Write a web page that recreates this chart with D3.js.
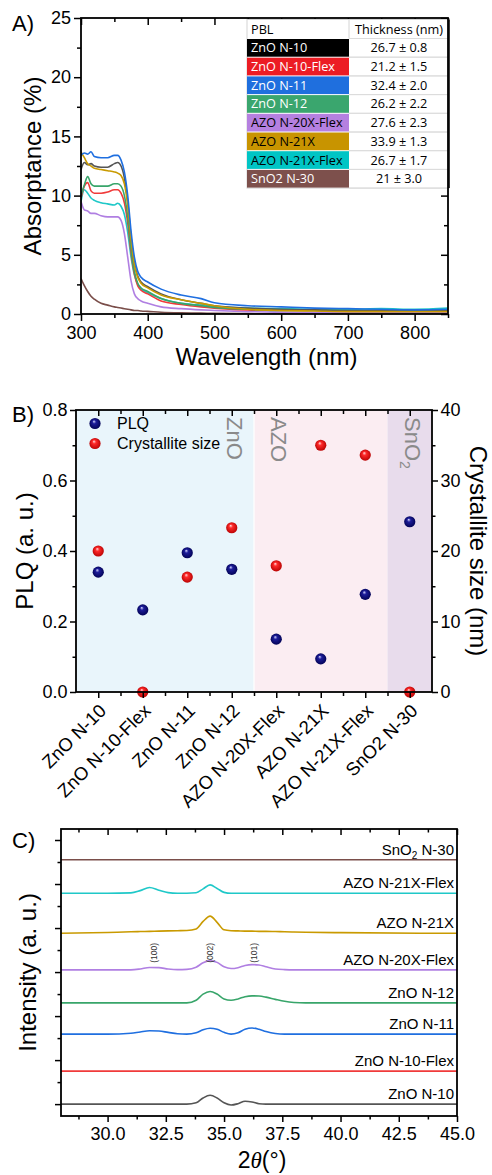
<!DOCTYPE html>
<html><head><meta charset="utf-8">
<script src="https://cdn.jsdelivr.net/npm/d3@7"></script>
<style>body{margin:0;background:#fff;} svg{display:block;font-family:"Liberation Sans",Arial,sans-serif;}</style>
</head><body><svg id="c" width="492" height="1175"></svg>
<script>
// ---------------- DATA ----------------
const samples = ["ZnO N-10","ZnO N-10-Flex","ZnO N-11","ZnO N-12","AZO N-20X-Flex","AZO N-21X","AZO N-21X-Flex","SnO2 N-30"];
const thickness = ["26.7 ± 0.8","21.2 ± 1.5","32.4 ± 2.0","26.2 ± 2.2","27.6 ± 2.3","33.9 ± 1.3","26.7 ± 1.7","21 ± 3.0"];

// Panel A: absorptance (%) vs wavelength (nm)
const wavelength = [300,305,310,315,320,330,340,350,355,360,365,370,375,380,385,390,400,420,450,480,500,550,600,650,700,750,800,850];
const absZnO_N10     = [12.2,12.8,12.6,12.7,12.5,12.4,12.4,12.7,12.8,12.5,11.5,9.5,6.5,4.3,3.2,2.7,2.3,1.7,1.2,0.9,0.7,0.5,0.4,0.35,0.3,0.3,0.3,0.3];
const absZnO_N10Flex = [9.8,10.8,11.1,10.4,10.2,10.2,10.3,10.5,10.5,10.2,9.4,7.7,5.2,3.4,2.4,2.0,1.7,1.1,0.8,0.6,0.5,0.35,0.3,0.3,0.25,0.25,0.25,0.25];
const absZnO_N11     = [13.4,13.6,13.5,13.7,13.3,13.2,13.2,13.4,13.4,13.0,12.0,10.0,7.0,4.8,3.6,3.1,2.7,2.1,1.6,1.3,0.95,0.7,0.6,0.5,0.45,0.4,0.35,0.4];
const absZnO_N12     = [10.0,10.9,11.6,11.0,10.8,10.8,10.8,11.0,11.0,10.8,10.0,8.2,5.5,3.6,2.6,2.2,1.9,1.3,0.9,0.7,0.55,0.4,0.3,0.3,0.3,0.3,0.25,0.3];
const absAZO_N20XFlex= [9.5,8.8,8.7,8.5,8.5,8.3,8.2,8.2,8.2,7.9,6.8,4.8,2.8,1.7,1.3,1.1,0.9,0.6,0.45,0.35,0.3,0.2,0.15,0.1,0.1,0.1,0.1,0.1];
const absAZO_N21X    = [13.7,13.2,12.7,12.5,12.3,12.2,12.1,12.0,11.9,11.7,11.0,9.2,6.3,4.2,3.1,2.6,2.2,1.6,1.2,0.9,0.7,0.4,0.3,0.25,0.2,0.2,0.2,0.2];
const absAZO_N21XFlex= [9.5,10.5,10.2,9.8,9.6,9.4,9.3,9.2,9.35,9.1,8.4,6.9,4.8,3.3,2.5,2.1,1.8,1.3,0.9,0.75,0.6,0.5,0.45,0.4,0.4,0.45,0.4,0.5];
const absSnO2_N30    = [3.0,2.4,1.9,1.5,1.25,0.9,0.75,0.6,0.55,0.5,0.45,0.4,0.35,0.3,0.3,0.25,0.22,0.15,0.1,0.08,0.05,0.03,0.02,0.02,0.02,0.02,0.02,0.02];
const absTicksX = [300,400,500,600,700,800];
const absTicksY = [0,5,10,15,20,25];

// Panel B
const plq = [0.34,0.233,0.395,0.348,0.150,0.094,0.277,0.483];
const crystalliteSize = [20.0,0,16.3,23.3,17.9,35.0,33.6,0];
const plqTicks = [0,0.2,0.4,0.6,0.8];
const sizeTicks = [0,10,20,30,40];
const groups = ["ZnO","AZO","SnO2"];
const groupSpans = [[0,3],[4,6],[7,7]];

// Panel C: XRD
const twoTheta = [28,30,31.0,31.4,31.8,32.2,32.6,33.0,33.4,33.8,34.1,34.4,34.7,35.0,35.3,35.6,35.9,36.2,36.5,36.8,37.2,37.6,38.0,38.5,40,45];
const xrdZnO_N10     = [0,0,0,0,0,0,0,0,0,0.03,0.14,0.2,0.14,0.03,-0.02,0.01,0.065,0.05,0.01,0,0,0,0,0,0,0];
const xrdZnO_N10Flex = [0,0,0,0,0,0,0,0,0,0,0,0,0,0,0,0,0,0,0,0,0,0,0,0,0,0];
const xrdZnO_N11     = [0,0,0.02,0.05,0.075,0.07,0.04,0.01,0,0.03,0.1,0.135,0.11,0.04,0,0.03,0.11,0.14,0.11,0.06,0.015,0,0,0,0,0];
const xrdZnO_N12     = [0,0,0,0,0,0,0,0,0,0.06,0.2,0.26,0.2,0.09,0.06,0.09,0.14,0.16,0.155,0.13,0.08,0.035,0.01,0,0,0];
const xrdAZO_N20XFlex= [0,0,0,0.02,0.055,0.05,0.02,0.005,0.01,0.06,0.16,0.21,0.17,0.07,0.03,0.05,0.1,0.12,0.11,0.07,0.02,0.005,0,0,0,0];
const xrdAZO_N21X    = [0,0.02,0.035,0.04,0.045,0.05,0.055,0.06,0.065,0.1,0.27,0.39,0.25,0.08,0.06,0.055,0.05,0.05,0.045,0.045,0.04,0.035,0.03,0.025,0.015,0];
const xrdAZO_N21XFlex= [0,0,0.01,0.06,0.13,0.07,0.015,0,0,0.01,0.1,0.19,0.11,0.02,0,0,0,0,0,0,0,0,0,0,0,0];
const xrdSnO2_N30    = [0,0,0,0,0,0,0,0,0,0,0,0,0,0,0,0,0,0,0,0,0,0,0,0,0,0];
const xrdOffsets = [0,0.75,1.59,2.3,3.05,3.88,4.79,5.55];
const xrdTicksX = [30,32.5,35,37.5,40,42.5,45];
const peakLabels = ["(100)","(002)","(101)"];
const peakPositions = [32.0,34.4,36.3];

// ---------------- STYLE ----------------
const lineColors = ["#555555","#f03a3a","#1f6fe0","#38a56a","#b07fe2","#c99a00","#1fc8c8","#7a4e4a"];
const cellColors = ["#000000","#ec1c24","#1f6fde","#3aa66e","#b580e0","#c89400","#00c5c5","#7d504c"];
const cellTextColors = ["#fff","#fff","#fff","#fff","#000","#000","#000","#fff"];
const groupColors = ["#e9f5fb","#fbedf2","#e8dcec"];

const svg = d3.select("#c");
const TICKFONT = 18;

function styleAxis(g){
  g.select(".domain").remove();
  g.selectAll("line").attr("stroke","#000").attr("stroke-width",1.5);
  g.selectAll("text").attr("font-size",TICKFONT).attr("font-family","Liberation Sans, Arial, sans-serif").attr("fill","#000");
}
function frame(x0,y0,x1,y1){
  svg.append("rect").attr("x",x0).attr("y",y0).attr("width",x1-x0).attr("height",y1-y0)
    .attr("fill","none").attr("stroke","#000").attr("stroke-width",1.8);
}
function halfSteps(arr){ const r=[]; for(let i=0;i<arr.length-1;i++) r.push((arr[i]+arr[i+1])/2); return r; }

// ================= PANEL A =================
{
  const L=81,R=448,T=18,B=314;
  const x = d3.scaleLinear().domain([300,850]).range([L,R]);
  const y = d3.scaleLinear().domain([0,25]).range([B,T]);
  const series = [absZnO_N10,absZnO_N10Flex,absZnO_N11,absZnO_N12,absAZO_N20XFlex,absAZO_N21X,absAZO_N21XFlex,absSnO2_N30];
  svg.append("clipPath").attr("id","clipA").append("rect").attr("x",L).attr("y",T).attr("width",R-L).attr("height",B-T);
  const line = d3.line().x((d,i)=>x(wavelength[i])).y(d=>y(d)).curve(d3.curveMonotoneX);
  const order=[7,4,6,1,3,0,5,2];
  const gl = svg.append("g").attr("clip-path","url(#clipA)");
  order.forEach(k=>{
    gl.append("path").attr("d",line(series[k])).attr("fill","none").attr("stroke",lineColors[k]).attr("stroke-width",1.6);
  });
  const minorX = halfSteps(absTicksX.concat([900])).filter(v=>v<=850);
  const minorY = halfSteps(absTicksY);
  svg.append("g").attr("transform",`translate(0,${B})`).call(d3.axisBottom(x).tickValues(absTicksX).tickSize(7).tickPadding(5).tickFormat(d3.format("d"))).call(styleAxis);
  svg.append("g").attr("transform",`translate(0,${B})`).call(d3.axisBottom(x).tickValues(minorX).tickSize(4).tickFormat("")).call(styleAxis);
  svg.append("g").attr("transform",`translate(0,${T})`).call(d3.axisTop(x).tickValues(absTicksX).tickSize(-7).tickFormat("")).call(styleAxis);
  svg.append("g").attr("transform",`translate(0,${T})`).call(d3.axisTop(x).tickValues(minorX).tickSize(-4).tickFormat("")).call(styleAxis);
  svg.append("g").attr("transform",`translate(${L},0)`).call(d3.axisLeft(y).tickValues(absTicksY).tickSize(7).tickPadding(3)).call(styleAxis);
  svg.append("g").attr("transform",`translate(${L},0)`).call(d3.axisLeft(y).tickValues(minorY).tickSize(4).tickFormat("")).call(styleAxis);
  svg.append("g").attr("transform",`translate(${R},0)`).call(d3.axisRight(y).tickValues(absTicksY).tickSize(-7).tickFormat("")).call(styleAxis);
  svg.append("g").attr("transform",`translate(${R},0)`).call(d3.axisRight(y).tickValues(minorY).tickSize(-4).tickFormat("")).call(styleAxis);

  // table
  const tx0=247, tx1=349, tx2=449, ty0=19.5, hh=19, rh=18.7;
  const tf = "'Open Sans','Noto Sans',sans-serif";
  const tg = svg.append("g").attr("font-family",tf).attr("font-size",12.7);
  tg.append("rect").attr("x",tx0).attr("y",ty0).attr("width",tx2-tx0).attr("height",hh+rh*samples.length).attr("fill","#fff").attr("stroke","#d4d4d4").attr("stroke-width",1);
  tg.append("text").attr("x",tx0+4).attr("y",ty0+hh/2+4.5).text("PBL").attr("fill","#000");
  tg.append("text").attr("x",(tx1+tx2)/2).attr("y",ty0+hh/2+4.5).attr("text-anchor","middle").text("Thickness (nm)").attr("fill","#000");
  tg.append("line").attr("x1",tx1).attr("x2",tx1).attr("y1",ty0).attr("y2",ty0+hh).attr("stroke","#d4d4d4");
  samples.forEach((s,i)=>{
    const yy = ty0+hh+i*rh;
    tg.append("rect").attr("x",tx0).attr("y",yy+0.5).attr("width",tx1-tx0).attr("height",rh-1).attr("fill",cellColors[i]);
    tg.append("line").attr("x1",tx1).attr("x2",tx2).attr("y1",yy+rh).attr("y2",yy+rh).attr("stroke","#dcdcdc");
    tg.append("line").attr("x1",tx1).attr("x2",tx2).attr("y1",yy).attr("y2",yy).attr("stroke","#dcdcdc");
    tg.append("text").attr("x",tx0+4).attr("y",yy+rh/2+4.5).attr("fill",cellTextColors[i]).text(s);
    tg.append("text").attr("x",(tx1+tx2)/2).attr("y",yy+rh/2+4.5).attr("text-anchor","middle").attr("fill","#000").text(thickness[i]);
  });
  tg.append("line").attr("x1",tx2).attr("x2",tx2).attr("y1",ty0).attr("y2",ty0+hh+rh*samples.length).attr("stroke","#000").attr("stroke-width",1.5);

  frame(L,T,R,B);
  svg.append("text").attr("x",12).attr("y",31).attr("font-size",22).text("A)");
  svg.append("text").attr("transform",`translate(41,${(T+B)/2}) rotate(-90)`).attr("text-anchor","middle").attr("font-size",24).text("Absorptance (%)");
  svg.append("text").attr("x",(L+R)/2+2).attr("y",365).attr("text-anchor","middle").attr("font-size",24).text("Wavelength (nm)");
}

// ================= PANEL B =================
{
  const L=76,R=432,T=410,B=692;
  const x = d3.scalePoint().domain(samples).range([L,R]).padding(0.5);
  const step = x.step();
  const yL = d3.scaleLinear().domain([0,0.8]).range([B,T]);
  const yR = d3.scaleLinear().domain([0,40]).range([B,T]);
  groupSpans.forEach((sp,gi)=>{
    const x0 = gi===0 ? L : x(samples[sp[0]])-step/2;
    const x1 = gi===groupSpans.length-1 ? R : x(samples[sp[1]])+step/2;
    svg.append("rect").attr("x",x0).attr("y",T).attr("width",x1-x0).attr("height",B-T).attr("fill",groupColors[gi]);
  });
  svg.append("line").attr("x1",x(samples[3])+step/2).attr("x2",x(samples[3])+step/2).attr("y1",T).attr("y2",B).attr("stroke","#fff").attr("stroke-width",1.2);
  const glab = [[3,"ZnO"],[4,"AZO"],[7,"SnO"]];
  glab.forEach(([idx,t],gi)=>{
    const tt = svg.append("text").attr("transform",`translate(${x(samples[idx])-5},${T+7}) rotate(90)`)
      .attr("font-size",22).attr("fill","#8a8a8a").text(t);
    if(gi===2) tt.append("tspan").attr("font-size",14).attr("dy",5).text("2");
  });
  const defs = svg.append("defs");
  const mk = (id,c0,c1,c2)=>{
    const g = defs.append("radialGradient").attr("id",id).attr("cx","50%").attr("cy","50%").attr("r","55%").attr("fx","40%").attr("fy","30%");
    g.append("stop").attr("offset","0%").attr("stop-color",c0);
    g.append("stop").attr("offset","30%").attr("stop-color",c1);
    g.append("stop").attr("offset","100%").attr("stop-color",c2);
  };
  mk("gNavy","#d8d8ff","#1d1d9a","#000050");
  mk("gRed","#ffe0e0","#ff2a2a","#b40000");
  samples.forEach((s,i)=>{
    svg.append("circle").attr("cx",x(s)).attr("cy",yL(plq[i])).attr("r",5.6).attr("fill","url(#gNavy)");
  });
  samples.forEach((s,i)=>{
    svg.append("circle").attr("cx",x(s)).attr("cy",yR(crystalliteSize[i])).attr("r",5.6).attr("fill","url(#gRed)");
  });
  svg.append("circle").attr("cx",95).attr("cy",423.5).attr("r",5.6).attr("fill","url(#gNavy)");
  svg.append("circle").attr("cx",95).attr("cy",443.5).attr("r",5.6).attr("fill","url(#gRed)");
  svg.append("text").attr("x",117).attr("y",429).attr("font-size",16).text("PLQ");
  svg.append("text").attr("x",117).attr("y",449).attr("font-size",16).text("Crystallite size");

  const mids = samples.slice(0,-1).map((s,i)=>x(s)+step/2);
  const xm = d3.scaleIdentity().domain([L,R]).range([L,R]);
  svg.append("g").attr("transform",`translate(0,${B})`).call(d3.axisBottom(x).tickSize(6).tickFormat("")).call(styleAxis);
  svg.append("g").attr("transform",`translate(0,${B})`).call(d3.axisBottom(xm).tickValues(mids).tickSize(4).tickFormat("")).call(styleAxis);
  svg.append("g").attr("transform",`translate(0,${T})`).call(d3.axisTop(x).tickSize(-6).tickFormat("")).call(styleAxis);
  svg.append("g").attr("transform",`translate(0,${T})`).call(d3.axisTop(xm).tickValues(mids).tickSize(-4).tickFormat("")).call(styleAxis);
  svg.append("g").attr("transform",`translate(${L},0)`).call(d3.axisLeft(yL).tickValues(plqTicks).tickSize(6).tickPadding(2.5).tickFormat(d3.format(".1f"))).call(styleAxis);
  svg.append("g").attr("transform",`translate(${L},0)`).call(d3.axisLeft(yL).tickValues(halfSteps(plqTicks)).tickSize(3.5).tickFormat("")).call(styleAxis);
  svg.append("g").attr("transform",`translate(${R},0)`).call(d3.axisRight(yR).tickValues(sizeTicks).tickSize(6).tickPadding(2.5).tickFormat(d3.format("d"))).call(styleAxis);
  svg.append("g").attr("transform",`translate(${R},0)`).call(d3.axisRight(yR).tickValues(halfSteps(sizeTicks)).tickSize(3.5).tickFormat("")).call(styleAxis);
  samples.forEach(s=>{
    svg.append("text").attr("transform",`translate(${x(s)+9},${B+20}) rotate(-45)`).attr("text-anchor","end")
      .attr("font-size",18.5).text(s);
  });
  frame(L,T,R,B);
  svg.append("text").attr("x",12).attr("y",422).attr("font-size",22).text("B)");
  svg.append("text").attr("transform",`translate(33,${(T+B)/2}) rotate(-90)`).attr("text-anchor","middle").attr("font-size",24).text("PLQ (a. u.)");
  svg.append("text").attr("transform",`translate(470,${(T+B)/2}) rotate(90)`).attr("text-anchor","middle").attr("font-size",24).text("Crystallite size (nm)");
}

// ================= PANEL C =================
{
  const L=61,R=457,T=829,B=1116;
  const x = d3.scaleLinear().domain([28,45]).range([L,R]);
  const y = d3.scaleLinear().domain([-0.27,6.25]).range([B,T]);
  const series = [xrdZnO_N10,xrdZnO_N10Flex,xrdZnO_N11,xrdZnO_N12,xrdAZO_N20XFlex,xrdAZO_N21X,xrdAZO_N21XFlex,xrdSnO2_N30];
  svg.append("clipPath").attr("id","clipC").append("rect").attr("x",L).attr("y",T).attr("width",R-L).attr("height",B-T);
  const gl = svg.append("g").attr("clip-path","url(#clipC)");
  series.forEach((s,k)=>{
    const line = d3.line().x((d,i)=>x(twoTheta[i])).y(d=>y(d+xrdOffsets[k])).curve(d3.curveMonotoneX);
    gl.append("path").attr("d",line(s)).attr("fill","none").attr("stroke",lineColors[k]).attr("stroke-width",1.6);
  });
  samples.forEach((s,k)=>{
    const t = svg.append("text").attr("x",R-3).attr("y",y(xrdOffsets[k])-5).attr("text-anchor","end").attr("font-size",15);
    if(s.startsWith("SnO2")){
      t.append("tspan").text("SnO");
      t.append("tspan").attr("font-size",10).attr("dy",4).text("2");
      t.append("tspan").attr("dy",-4).text(" N-30");
    } else t.text(s);
  });
  peakLabels.forEach((p,i)=>{
    svg.append("text").attr("transform",`translate(${x(peakPositions[i])+3},${y(xrdOffsets[4])-7}) rotate(-90)`)
      .attr("font-size",8.5).attr("fill","#333").text(p);
  });
  const minorX = halfSteps(xrdTicksX).concat([28.75]);
  svg.append("g").attr("transform",`translate(0,${B})`).call(d3.axisBottom(x).tickValues(xrdTicksX).tickSize(6).tickPadding(5).tickFormat(d3.format(".1f"))).call(styleAxis);
  svg.append("g").attr("transform",`translate(0,${B})`).call(d3.axisBottom(x).tickValues(minorX).tickSize(3.5).tickFormat("")).call(styleAxis);
  svg.append("g").attr("transform",`translate(0,${T})`).call(d3.axisTop(x).tickValues(xrdTicksX).tickSize(-6).tickFormat("")).call(styleAxis);
  svg.append("g").attr("transform",`translate(0,${T})`).call(d3.axisTop(x).tickValues(minorX).tickSize(-3.5).tickFormat("")).call(styleAxis);
  const yMaj=[0,1,2,3,4,5,6];
  svg.append("g").attr("transform",`translate(${L},0)`).call(d3.axisLeft(y).tickValues(yMaj).tickSize(6).tickFormat("")).call(styleAxis);
  svg.append("g").attr("transform",`translate(${L},0)`).call(d3.axisLeft(y).tickValues(halfSteps(yMaj)).tickSize(3.5).tickFormat("")).call(styleAxis);
  frame(L,T,R,B);
  svg.append("text").attr("x",12).attr("y",848).attr("font-size",22).text("C)");
  svg.append("text").attr("transform",`translate(36,${(T+B)/2}) rotate(-90)`).attr("text-anchor","middle").attr("font-size",24).text("Intensity (a. u.)");
  const xt = svg.append("text").attr("x",(L+R)/2+3).attr("y",1168).attr("text-anchor","middle").attr("font-size",23);
  xt.append("tspan").text("2");
  xt.append("tspan").attr("font-family","Liberation Serif, serif").attr("font-style","italic").text("θ");
  xt.append("tspan").text("(°)");
}
</script></body></html>
